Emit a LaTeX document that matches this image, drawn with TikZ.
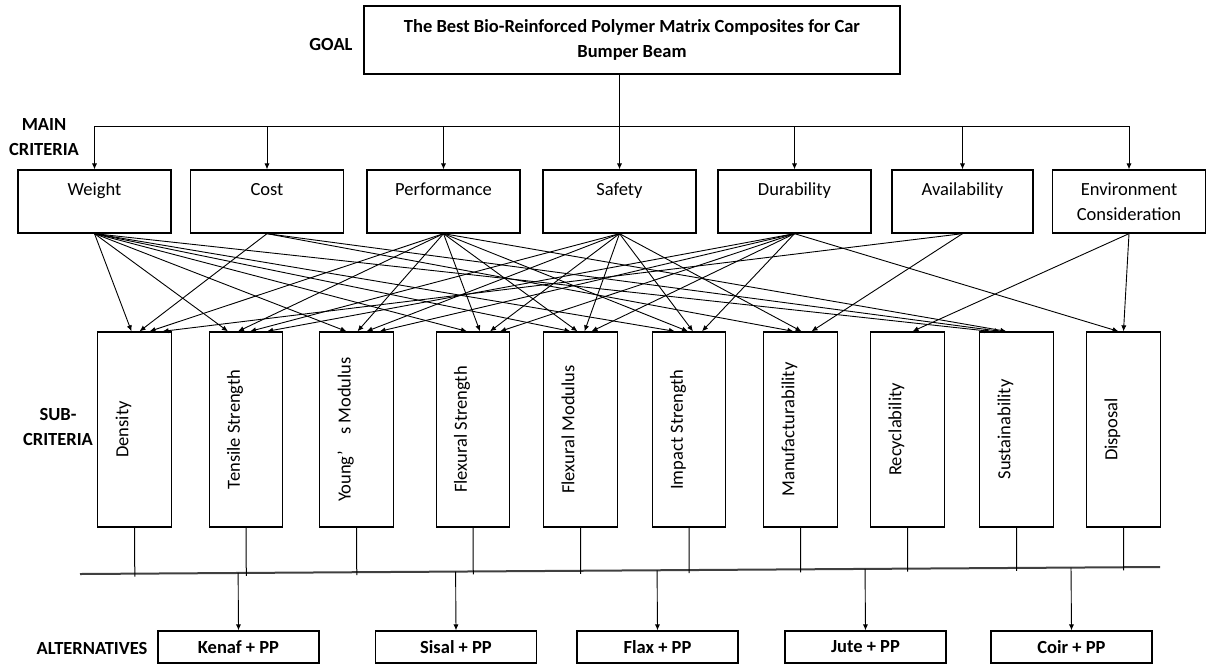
\documentclass[tikz,border=0pt]{standalone}
\usepackage{fontspec}
\setmainfont{Carlito}
\usetikzlibrary{calc,arrows.meta}

\newcommand{\figfont}{\fontsize{9.25}{12.5}\selectfont}

\tikzset{
  mainbox/.style={draw, line width=0.65pt, minimum width=76.5pt, minimum height=31.5pt,
    inner sep=0pt, align=center, font=\figfont},
  subbox/.style={draw, line width=0.65pt, rotate=90, minimum width=97.5pt, minimum height=36.75pt,
    inner sep=0pt, align=center, font=\figfont},
  altbox/.style={draw, line width=0.65pt, minimum width=80.5pt, minimum height=16pt,
    inner sep=0pt, font=\figfont\bfseries},
  tag/.style={align=center, font=\figfont\bfseries},
  link/.style={-{Latex[length=3pt,width=2.6pt]}, line width=0.45pt},
}

\begin{document}
\begin{tikzpicture}[x=0.5pt, y=-0.5pt]
\useasboundingbox (0,0) rectangle (1206,666);

% Goal
\node[mainbox, font=\figfont\bfseries, minimum width=268pt, minimum height=34pt] (g) at (632,40)
  {The Best Bio-Reinforced Polymer Matrix Composites for Car\\Bumper Beam};

% Main criteria
\node[mainbox] (w) at (94.5,201.5) {Weight\\~};
\node[mainbox] (c) at (267,201.5) {Cost\\~};
\node[mainbox] (p) at (443.5,201.5) {Performance\\~};
\node[mainbox] (s) at (619.5,201.5) {Safety\\~};
\node[mainbox] (du) at (794.5,201.5) {Durability\\~};
\node[mainbox, minimum width=70.5pt] (a) at (962.5,201.5) {Availability\\~};
\node[mainbox] (e) at (1129,201.5) {Environment\\Consideration};

% Sub-criteria (rotated, so east is the top edge)
\node[subbox] (den) at (134.5,429.5) {Density\\~};
\node[subbox] (ts) at (246,429.5) {Tensile Strength\\~};
\node[subbox] (ym) at (356.5,429.5) {Young’\hspace{6pt} s Modulus\\~};
\node[subbox] (fs) at (473,429.5) {Flexural Strength\\~};
\node[subbox] (fm) at (580.5,429.5) {Flexural Modulus\\~};
\node[subbox] (is) at (689,429.5) {Impact Strength\\~};
\node[subbox] (man) at (800.5,429.5) {Manufacturability\\~};
\node[subbox] (rec) at (907.5,429.5) {Recyclability\\~};
\node[subbox] (sus) at (1016.5,429.5) {Sustainability\\~};
\node[subbox] (dis) at (1123.5,429.5) {Disposal\\~};

% Alternatives
\node[altbox] (k) at (238.5,647) {Kenaf + PP};
\node[altbox] (si) at (456,647) {Sisal + PP};
\node[altbox] (fl) at (657.5,647) {Flax + PP};
\node[altbox] (j) at (865.5,647) {Jute + PP};
\node[altbox] (co) at (1071.5,647) {Coir + PP};

% Level labels
\node[tag] (goallbl) at (331,44) {GOAL};
\node[tag] (mainlbl) at (44,137.5) {MAIN\\CRITERIA};
\node[tag] (sublbl) at (58,427) {SUB-\\CRITERIA};
\node[tag] (altlbl) at (92,648) {ALTERNATIVES};

% Goal to main criteria
\coordinate (bus) at (0,126);
\draw[line width=0.5pt] (g.south -| s.north) -- (s.north |- bus);
\draw[line width=0.5pt] (w.north |- bus) -- (e.north |- bus);
\foreach \m in {w,c,p,s,du,a,e}
  \draw[link] (\m.north |- bus) -- (\m.north);

% Main criteria to sub-criteria
\foreach \src/\dst/\off in {w/den/-3, c/den/5, p/den/15, a/den/28,
    w/ts/-18, p/ts/-8, s/ts/4, du/ts/21,
    w/ym/-10, p/ym/1, s/ym/10, du/ym/23,
    w/fs/-6, p/fs/7, s/fs/17, du/fs/27,
    w/fm/-10, p/fm/-3, s/fm/4, du/fm/11,
    w/is/-14, p/is/-1, s/is/4, du/is/13,
    c/man/-7, s/man/1, a/man/11,
    e/rec/5,
    w/sus/-26, c/sus/-16, p/sus/-10,
    du/dis/-5, e/dis/0}
  \draw[link] (\src.south) -- ($(\dst.east)+(\off,0)$);

% Sub-criteria to alternatives
\coordinate (bl) at (80,574);
\coordinate (br) at (1160,567);
\draw[line width=1pt, black!75] (bl) -- (br);
\foreach \t in {den,ts,ym,fs,fm,is,man,rec,sus,dis}
  \draw[line width=0.5pt] (\t.west) -- ($(bl)!(\t.west)!(br)$) -- ++(0,3);
\foreach \t in {k,si,fl,j,co}
  \draw[link] ($(bl)!(\t.north)!(br)$) -- (\t.north);
\end{tikzpicture}
\end{document}
